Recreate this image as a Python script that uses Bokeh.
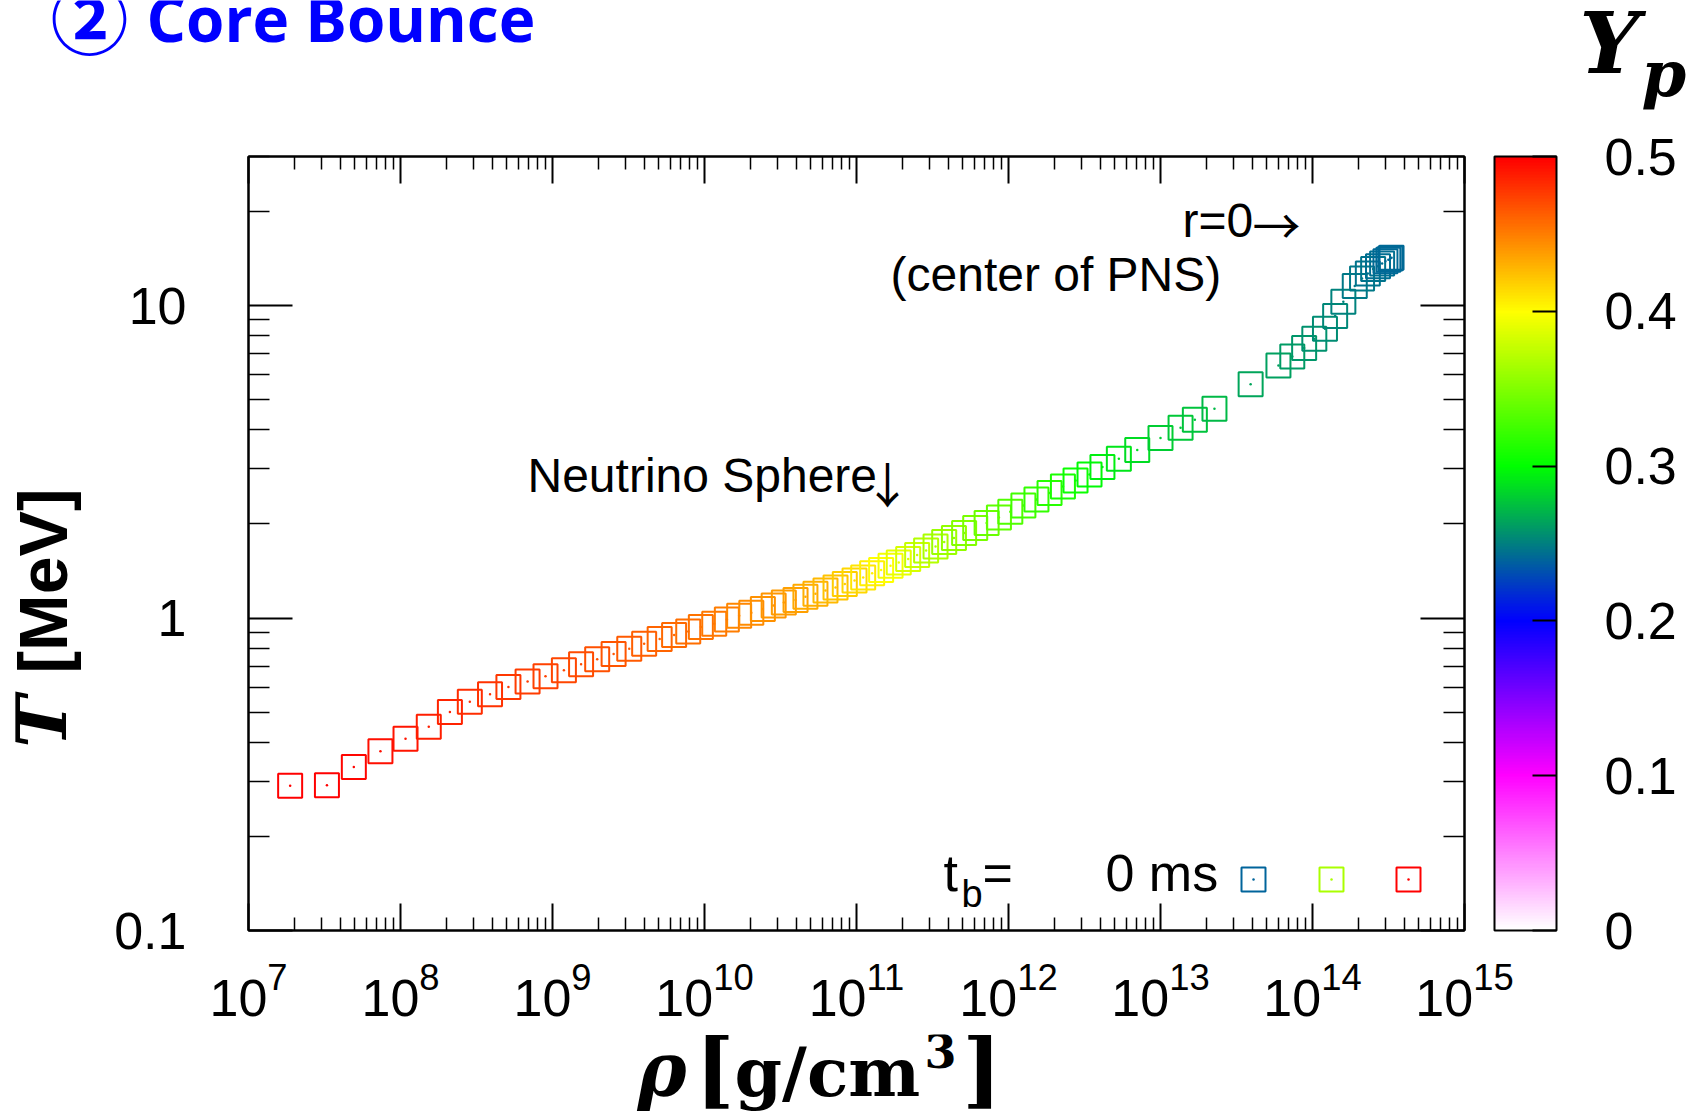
import math
import numpy as np
from bokeh.plotting import figure
from bokeh.layouts import column, row
from bokeh.models import (ColumnDataSource, LinearColorMapper, ColorBar, FixedTicker,
                          LogAxis, Label, Range1d, CustomJSTickFormatter, LogTickFormatter)
from bokeh.transform import transform
from bokeh.embed import file_html
from bokeh.resources import INLINE

# ---------------- data ----------------
log_rho = [7.274, 7.516, 7.693, 7.868, 8.033, 8.186, 8.325, 8.456, 8.589, 8.710,
           8.836, 8.954, 9.075, 9.188, 9.294, 9.402, 9.505, 9.603, 9.705, 9.800,
           9.893, 9.976, 10.064, 10.147, 10.228, 10.308, 10.384, 10.455, 10.522, 10.599,
           10.664, 10.730, 10.796, 10.862, 10.923, 10.987, 11.044, 11.103, 11.162, 11.224,
           11.278, 11.340, 11.399, 11.458, 11.520, 11.577, 11.641, 11.708, 11.781, 11.856,
           11.937, 12.012, 12.098, 12.184, 12.270, 12.358, 12.441, 12.533, 12.618, 12.726,
           12.847, 13.000, 13.132, 13.226, 13.355, 13.593, 13.776, 13.867, 13.945, 14.012,
           14.082, 14.149, 14.203, 14.278, 14.326, 14.364, 14.399, 14.431, 14.458, 14.480,
           14.499, 14.512, 14.520]
log_T = [-0.537, -0.535, -0.477, -0.426, -0.386, -0.348, -0.301, -0.268, -0.244, -0.221,
         -0.203, -0.186, -0.167, -0.148, -0.132, -0.115, -0.098, -0.082, -0.067, -0.054,
         -0.043, -0.029, -0.018, -0.005, 0.007, 0.017, 0.029, 0.040, 0.050, 0.058,
         0.068, 0.078, 0.088, 0.098, 0.109, 0.120, 0.130, 0.143, 0.154, 0.167,
         0.178, 0.189, 0.202, 0.216, 0.229, 0.243, 0.256, 0.272, 0.288, 0.304,
         0.322, 0.340, 0.360, 0.379, 0.400, 0.421, 0.440, 0.459, 0.483, 0.510,
         0.538, 0.576, 0.609, 0.635, 0.670, 0.748, 0.808, 0.837, 0.864, 0.894,
         0.926, 0.967, 1.012, 1.063, 1.087, 1.103, 1.117, 1.126, 1.135, 1.142,
         1.147, 1.151, 1.153]
yp = [0.500, 0.499, 0.497, 0.494, 0.491, 0.488, 0.485, 0.482, 0.480, 0.478,
      0.476, 0.473, 0.471, 0.469, 0.468, 0.466, 0.464, 0.462, 0.460, 0.458,
      0.456, 0.454, 0.452, 0.450, 0.447, 0.445, 0.443, 0.441, 0.439, 0.436,
      0.433, 0.430, 0.427, 0.423, 0.419, 0.415, 0.410, 0.405, 0.400, 0.395,
      0.389, 0.383, 0.377, 0.371, 0.366, 0.361, 0.356, 0.351, 0.346, 0.341,
      0.336, 0.331, 0.325, 0.320, 0.315, 0.309, 0.303, 0.298, 0.294, 0.290,
      0.286, 0.281, 0.278, 0.276, 0.273, 0.265, 0.262, 0.260, 0.258, 0.256,
      0.254, 0.252, 0.250, 0.248, 0.247, 0.246, 0.245, 0.244, 0.243, 0.242,
      0.242, 0.241, 0.241]

legend_yp = [0.24, 0.367, 0.5]
legend_text = "0 ms"

x_ticks = [1e7, 1e8, 1e9, 1e10, 1e11, 1e12, 1e13, 1e14, 1e15]
y_ticks = [0.1, 1.0, 10.0]
cb_ticks = [0.0, 0.1, 0.2, 0.3, 0.4, 0.5]

pal_stops = [0.0, 0.1, 0.2, 0.3, 0.4, 0.5]
pal_colors = ["#ffffff", "#ff00ff", "#0000ff", "#00ff00", "#ffff00", "#ff0000"]

# ---------------- palette ----------------
def hex2rgb(h):
    return [int(h[i:i + 2], 16) for i in (1, 3, 5)]

lv = np.linspace(0.0, 0.5, 256)
chan = [np.interp(lv, pal_stops, [hex2rgb(c)[k] for c in pal_colors]) for k in range(3)]
palette = ["#%02x%02x%02x" % (int(round(r)), int(round(g)), int(round(b)))
           for r, g, b in zip(*chan)]
mapper = LinearColorMapper(palette=palette, low=0.0, high=0.5)

# ---------------- geometry (page pixels) ----------------
W, H = 1692, 1113
FL, FR, FT, FB = 248, 1464, 156, 930
TOP_H = 126          # top text strip
LEFT_W = 100         # left text strip
MAIN_BOTTOM = 1034   # where the bottom text strip starts
X0, X1 = 1e7, 1e15
Y0, Y1 = 0.1, 30.0
BASE = 0.38          # baseline correction (em)
FONT = "Liberation Sans"


def X(px):
    return 10 ** (math.log10(X0) + (px - FL) / (FR - FL) * (math.log10(X1) - math.log10(X0)))


def Y(py):
    return 10 ** (math.log10(Y0) + (FB - py) / (FB - FT) * (math.log10(Y1) - math.log10(Y0)))


# ---------------- main plot ----------------
p = figure(frame_width=FR - FL, frame_height=FB - FT, x_axis_type="log", y_axis_type="log",
           x_range=Range1d(X0, X1), y_range=Range1d(Y0, Y1),
           min_border_left=FL - LEFT_W, min_border_right=W - FR, min_border_top=FT - TOP_H,
           min_border_bottom=MAIN_BOTTOM - FB, output_backend="svg", toolbar_location=None)
p.grid.visible = False
p.outline_line_color = "black"
p.outline_line_width = 2
p.background_fill_color = "white"
p.border_fill_color = "white"

x_minor = [m * 10 ** e for e in range(7, 15) for m in range(2, 10)]
y_minor = [m * 10 ** e for e in (-1, 0, 1) for m in range(2, 10) if m * 10 ** e <= 30]


def style_axis(ax, tin, tmin, show):
    ax.axis_line_color = "black"
    ax.axis_line_width = 2
    ax.major_tick_in = tin
    ax.major_tick_out = 0
    ax.minor_tick_in = tmin
    ax.minor_tick_out = 0
    ax.major_tick_line_width = 2
    ax.minor_tick_line_width = 1.5
    ax.major_tick_line_color = "black"
    ax.minor_tick_line_color = "black"
    ax.major_label_text_font = FONT
    ax.major_label_text_color = "black"
    if show:
        ax.major_label_text_font_size = "52px"
    else:
        ax.major_label_text_font_size = "0px"
        ax.major_label_standoff = 0
        ax.formatter = CustomJSTickFormatter(code="return ''")


xb = p.xaxis[0]
xb.ticker = FixedTicker(ticks=x_ticks, minor_ticks=x_minor)
xb.formatter = LogTickFormatter()
style_axis(xb, 27, 13, True)
xb.major_label_standoff = 32

yl = p.yaxis[0]
yl.ticker = FixedTicker(ticks=y_ticks, minor_ticks=y_minor)
yl.formatter = CustomJSTickFormatter(code="return tick.toString()")
style_axis(yl, 44, 21, True)
yl.major_label_standoff = 62

xt = LogAxis(ticker=FixedTicker(ticks=x_ticks, minor_ticks=x_minor))
style_axis(xt, 27, 13, False)
p.add_layout(xt, "above")

yr = LogAxis(ticker=FixedTicker(ticks=y_ticks, minor_ticks=y_minor))
style_axis(yr, 44, 21, False)
p.add_layout(yr, "right")

cb = ColorBar(color_mapper=mapper, width=62, height=FB - FT, location=(30, 0),
              margin=0, padding=0,
              ticker=FixedTicker(ticks=cb_ticks, minor_ticks=[]),
              formatter=CustomJSTickFormatter(code="return tick.toString()"),
              major_tick_in=24, major_tick_out=0, major_tick_line_color="black",
              major_tick_line_width=2, minor_tick_line_color=None,
              bar_line_color="black", bar_line_width=2,
              border_line_color=None, background_fill_color=None,
              label_standoff=48, major_label_text_font=FONT,
              major_label_text_font_size="52px", major_label_text_color="black")
p.add_layout(cb, "right")

src = ColumnDataSource(dict(rho=[10 ** v for v in log_rho], T=[10 ** v for v in log_T], yp=yp))
p.scatter(x="rho", y="T", source=src, marker="square", size=24, fill_color=None,
          line_color=transform("yp", mapper), line_width=2)
p.scatter(x="rho", y="T", source=src, marker="circle", size=2.5,
          fill_color=transform("yp", mapper), line_color=None)

# key swatches
key_px = [1253, 1331, 1408]
key_py = 879
ksrc = ColumnDataSource(dict(x=[X(v) for v in key_px], y=[Y(key_py)] * 3, yp=legend_yp))
p.scatter(x="x", y="y", source=ksrc, marker="square", size=24, fill_color=None,
          line_color=transform("yp", mapper), line_width=2)
p.scatter(x="x", y="y", source=ksrc, marker="circle", size=2.5,
          fill_color=transform("yp", mapper), line_color=None)


def lab(text, px, py, size, font=FONT, style="normal", color="black", align="left"):
    p.add_layout(Label(x=X(px), y=Y(py - BASE * size), text=text, text_font=font,
                       text_font_size=f"{size}px", text_font_style=style,
                       text_color=color, text_align=align, text_baseline="alphabetic"))


lab("t", 943, 892, 52)
lab("b", 961, 908, 38)
lab("=", 982, 892, 52)
lab(legend_text, 1105, 892, 52)

lab("Neutrino Sphere", 527, 493, 48)
lab("\u2193", 887, 500, 48, font="Noto Sans CJK JP", align="center")
lab("r=0", 1182, 238, 48)
lab("\u2192", 1276, 241, 48, font="Noto Sans CJK JP", align="center")
lab("(center of PNS)", 890, 292, 48)


# ---------------- text strips ----------------
def strip(w, h):
    f = figure(width=w, height=h, x_range=Range1d(0, w), y_range=Range1d(0, h),
               min_border=0, toolbar_location=None, output_backend="svg",
               x_axis_location=None, y_axis_location=None, title=None)
    f.grid.visible = False
    f.outline_line_color = None
    f.background_fill_color = "white"
    f.border_fill_color = "white"
    return f


def slab(f, x0, y0, h, text, gx, gy, size, font=FONT, style="normal", color="black",
         angle=0.0, align="left"):
    if angle:
        x = gx - x0 - BASE * size
        y = h - (gy - y0)
    else:
        x = gx - x0
        y = h - (gy - y0) + BASE * size
    f.add_layout(Label(x=x, y=y, text=text, text_font=font, text_font_size=f"{size}px",
                       text_font_style=style, text_color=color, angle=angle,
                       text_align=align, text_baseline="alphabetic"))


top = strip(W, TOP_H)
slab(top, 0, 0, TOP_H, "\u2461", 50, 44, 78, font="Noto Sans CJK JP", style="bold", color="#0000ff")
slab(top, 0, 0, TOP_H, "Core Bounce", 146, 41, 62, font="Open Sans", style="bold", color="#0000ff")
slab(top, 0, 0, TOP_H, "Y", 1579, 75, 84, font="DejaVu Serif", style="bold italic")
slab(top, 0, 0, TOP_H, "p", 1641, 97, 64, font="DejaVu Serif", style="bold italic")

MAIN_H = MAIN_BOTTOM - TOP_H
left = strip(LEFT_W, MAIN_H)
slab(left, 0, TOP_H, MAIN_H, "[MeV]", 68, 624, 68, style="bold", angle=math.pi / 2, align="center")
slab(left, 0, TOP_H, MAIN_H, "T", 68, 789, 70, font="DejaVu Serif", style="bold italic",
     angle=math.pi / 2, align="center")

BOT_H = H - MAIN_BOTTOM
bot = strip(W, BOT_H)
slab(bot, 0, MAIN_BOTTOM, BOT_H, "\u03c1", 637, 1097, 74, font="DejaVu Serif", style="bold italic")
slab(bot, 0, MAIN_BOTTOM, BOT_H, "[", 695, 1100, 82, font="DejaVu Serif", style="bold")
slab(bot, 0, MAIN_BOTTOM, BOT_H, "g/cm", 734, 1097, 68, font="DejaVu Serif", style="bold")
slab(bot, 0, MAIN_BOTTOM, BOT_H, "3", 924, 1068, 46, font="DejaVu Serif", style="bold")
slab(bot, 0, MAIN_BOTTOM, BOT_H, "]", 962, 1100, 82, font="DejaVu Serif", style="bold")

layout = column(top, row(left, p, spacing=0), bot, spacing=0)
open("out.html", "w").write(file_html(layout, INLINE))
